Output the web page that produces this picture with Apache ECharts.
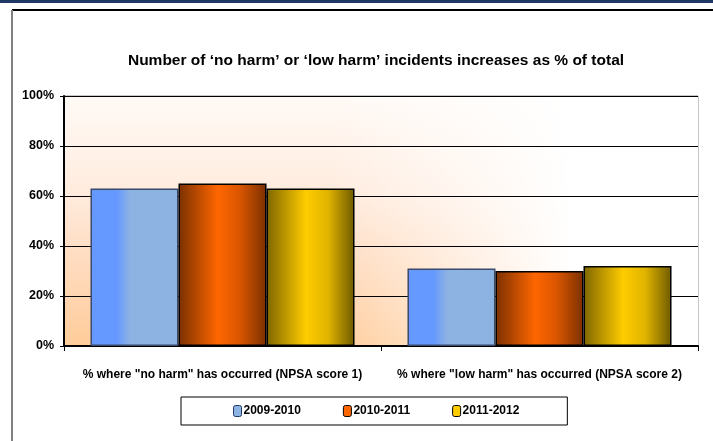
<!DOCTYPE html>
<html>
<head>
<meta charset="utf-8">
<script src="https://cdn.jsdelivr.net/npm/echarts@6/dist/echarts.min.js"></script>
<style>
  html, body { margin: 0; padding: 0; background: #fff; }
  #main { width: 713px; height: 441px; }
</style>
</head>
<body>
<div id="main"></div>
<script>
// data
var categories = ['% where "no harm" has occurred (NPSA score 1)', '% where "low harm" has occurred (NPSA score 2)'];
var years = ['2009-2010', '2010-2011', '2011-2012'];
var values2009 = [63, 31];
var values2010 = [65, 30];
var values2011 = [63, 32];
var yTicks = [0, 20, 40, 60, 80, 100];

var font = '"Liberation Sans Narrow", "Arial Narrow", "Liberation Sans", Arial, sans-serif';
var chart = echarts.init(document.getElementById('main'));

function grad(x, y, x2, y2, stops) {
   return new echarts.graphic.LinearGradient(x, y, x2, y2, stops.map(function (s) {
      return { offset: s[0], color: s[1] };
   }));
}

var blueFill = grad(0, 0, 1, 0, [[0, '#6699FF'], [0.3, '#6699FF'], [0.45, '#8DB3E2'], [1, '#8DB3E2']]);
var orangeFill = grad(0, 0, 1, 0, [[0, '#7A3000'], [0.45, '#FF6600'], [0.7, '#D95500'], [1, '#7A3000']]);
var yellowFill = grad(0, 0, 1, 0, [[0, '#7F6600'], [0.45, '#FFCC00'], [0.7, '#E0B400'], [1, '#6E5A00']]);

function barSeries(name, data, fill, border) {
   return {
      name: name,
      type: 'bar',
      data: data,
      barGap: '0%',
      barCategoryGap: '16.7%',
      itemStyle: { color: fill, borderColor: border, borderWidth: 1.5 },
      emphasis: { disabled: true }
   };
}

var plotBox = { left: 64, top: 96, right: 15, bottom: 95 };

chart.setOption({
   backgroundColor: '#fff',
   animation: false,
   textStyle: { fontFamily: font },
   title: {
      text: 'Number of ‘no harm’ or ‘low harm’ incidents increases as % of total',
      left: 371,
      textAlign: 'center',
      top: 48,
      textStyle: { fontFamily: font, fontSize: 15.5, fontWeight: 'bold', color: '#000' }
   },
   legend: {
      left: 181,
      top: 397,
      padding: [8, 48, 8, 52],
      itemGap: 42,
      itemWidth: 8,
      itemHeight: 11,
      borderColor: '#000',
      borderWidth: 1,
      textStyle: { fontFamily: font, fontSize: 12, fontWeight: 'bold', color: '#000', padding: [0, 0, 0, -3] },
      data: [
         { name: years[0], itemStyle: { color: '#8DB3E2', borderColor: '#1F3864', borderWidth: 1 } },
         { name: years[1], itemStyle: { color: '#FF6600', borderColor: '#000', borderWidth: 1 } },
         { name: years[2], itemStyle: { color: '#FFCC00', borderColor: '#000', borderWidth: 1 } }
      ]
   },
   // two stacked plot backgrounds: peach fading upward, then a white fade over the right side
   grid: [
      Object.assign({
         show: true,
         borderColor: '#909090',
         borderWidth: 1,
         backgroundColor: grad(0, 1, 0, 0, [[0, '#FFCC99'], [0.18, '#FFD4AE'], [0.42, '#FFE0C8'], [0.6, '#FFEBDD'], [1, '#FFFAF6']])
      }, plotBox),
      Object.assign({
         show: true,
         borderWidth: 0,
         backgroundColor: grad(0, 0, 1, 0, [[0, 'rgba(255,255,255,0)'], [0.42, 'rgba(255,255,255,0)'], [0.8, 'rgba(255,255,255,1)'], [1, 'rgba(255,255,255,1)']])
      }, plotBox)
   ],
   xAxis: [{
      type: 'category',
      data: categories,
      axisLine: { lineStyle: { color: '#000', width: 2 } },
      axisTick: { show: true, length: 5, lineStyle: { color: '#000' } },
      axisLabel: { interval: 0, fontFamily: font, fontSize: 12, fontWeight: 'bold', color: '#000', margin: 23 }
   }, {
      type: 'category', gridIndex: 1, data: categories, show: false
   }],
   yAxis: [{
      type: 'value',
      min: yTicks[0],
      max: yTicks[yTicks.length - 1],
      interval: 20,
      axisLine: { show: true, lineStyle: { color: '#000', width: 2 } },
      axisTick: { show: true, length: 4, lineStyle: { color: '#000' } },
      splitLine: { lineStyle: { color: '#000', width: 1 } },
      axisLabel: { fontFamily: font, fontSize: 12.5, fontWeight: 'bold', color: '#000', margin: 10, formatter: '{value}%' }
   }, {
      type: 'value', gridIndex: 1, min: 0, max: 100, show: false, splitLine: { show: false }
   }],
   series: [
      barSeries(years[0], values2009, blueFill, '#3A4A6A'),
      barSeries(years[1], values2010, orangeFill, '#000'),
      barSeries(years[2], values2011, yellowFill, '#000')
   ],
   graphic: [
      { type: 'rect', left: 0, top: 0, shape: { width: 713, height: 3 }, style: { fill: '#1F3864' }, silent: true },
      { type: 'line', shape: { x1: 12, y1: 10, x2: 713, y2: 10 }, style: { stroke: '#000', lineWidth: 2 }, silent: true },
      { type: 'line', shape: { x1: 12, y1: 10, x2: 12, y2: 441 }, style: { stroke: '#808080', lineWidth: 2 }, silent: true }
   ]
});
</script>
</body>
</html>
